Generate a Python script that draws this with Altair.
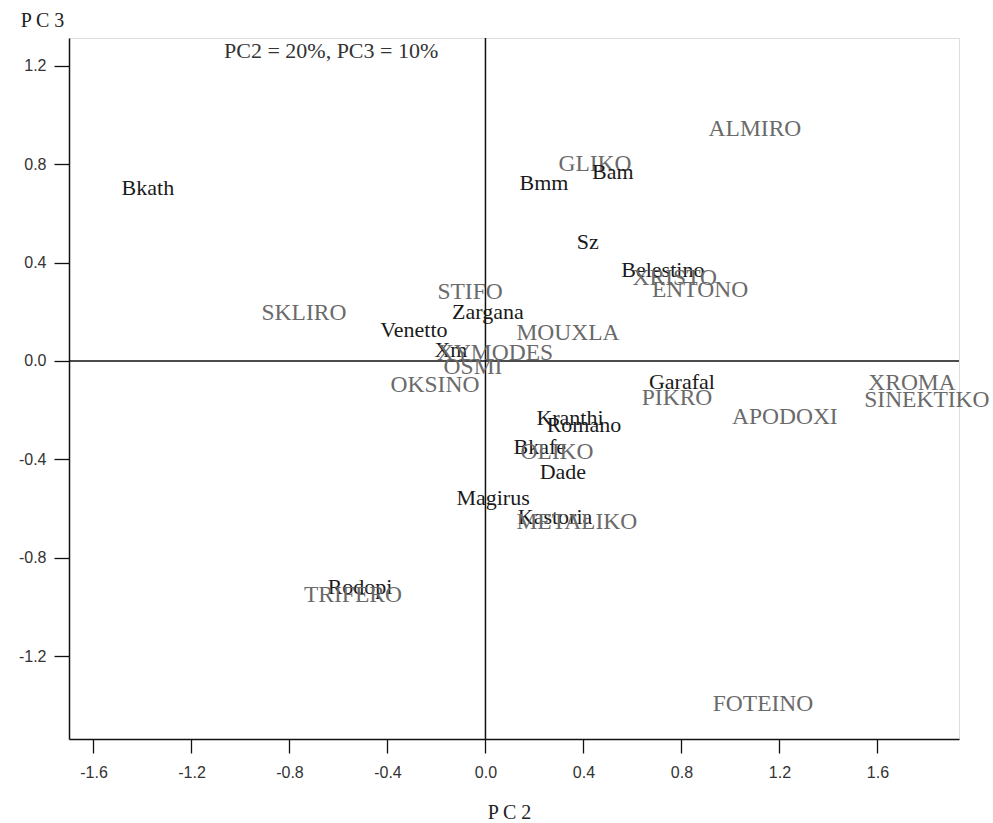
import altair as alt
import pandas as pd

labels = ["Bkath", "ALMIRO", "GLIKO", "Bam", "Bmm", "Sz", "Belestino", "XRISTO",
          "ENTONO", "STIFO", "Zargana", "SKLIRO", "Venetto", "MOUXLA", "Xm", "XYMODES",
          "OSMI", "OKSINO", "Garafal", "PIKRO", "APODOXI", "XROMA", "SINEKTIKO",
          "Kranthi", "Romano", "Bkafe", "OLIKO", "Dade", "Magirus", "Kastoria",
          "METALIKO", "Rodopi", "TRIFERO", "FOTEINO"]
pc2 = [-1.378, 1.10, 0.447, 0.52, 0.239, 0.418, 0.724, 0.773,
       0.876, -0.063, 0.01, -0.741, -0.292, 0.337, -0.141, 0.039,
       -0.051, -0.206, 0.802, 0.782, 1.222, 1.741, 1.802,
       0.345, 0.402, 0.222, 0.292, 0.316, 0.031, 0.284,
       0.373, -0.512, -0.541, 1.133]
pc3 = [0.703, 0.943, 0.80, 0.768, 0.724, 0.484, 0.37, 0.337,
       0.289, 0.28, 0.199, 0.195, 0.126, 0.114, 0.045, 0.033,
       -0.024, -0.098, -0.085, -0.15, -0.228, -0.089, -0.159,
       -0.232, -0.26, -0.35, -0.37, -0.451, -0.557, -0.634,
       -0.654, -0.919, -0.951, -1.394]
kind = ["sample" if not l.isupper() else "attribute" for l in labels]

x_ticks = [-1.6, -1.2, -0.8, -0.4, 0.0, 0.4, 0.8, 1.2, 1.6]
y_ticks = [-1.2, -0.8, -0.4, 0.0, 0.4, 0.8, 1.2]
x_domain = [-1.70, 1.933]
y_domain = [-1.537, 1.313]

note_text = ["PC2 = 20%, PC3 = 10%"]
note_x = [-0.63]
note_y = [1.262]

df = pd.DataFrame({"label": labels, "PC2": pc2, "PC3": pc3, "kind": kind})
note = pd.DataFrame({"t": note_text, "x": note_x, "y": note_y})
zero = pd.DataFrame({"v": [0.0]})

xs = alt.Scale(domain=x_domain, nice=False, zero=False)
ys = alt.Scale(domain=y_domain, nice=False, zero=False)

minus_fix = "replace(datum.label, '\u2212', '-')"

xaxis = alt.Axis(values=x_ticks, format=".1f", labelExpr=minus_fix, grid=False,
                 title="P C 2",
                 titleAngle=0, titleX=440, titleY=73, titleAlign="center",
                 titleBaseline="middle", titleFont="Liberation Serif",
                 titleFontSize=20, titleFontWeight="normal", titleColor="#222",
                 labelFont="Liberation Sans", labelFontSize=16, labelColor="#333",
                 tickSize=14, labelPadding=11, domainColor="#111", tickColor="#111",
                 domainWidth=1.5, tickWidth=1.3)
yaxis = alt.Axis(values=y_ticks, format=".1f", labelExpr=minus_fix, grid=False,
                 title="P C 3",
                 titleAngle=0, titleX=-27, titleY=-18, titleAlign="center",
                 titleBaseline="middle", titleFont="Liberation Serif",
                 titleFontSize=20, titleFontWeight="normal", titleColor="#222",
                 labelFont="Liberation Sans", labelFontSize=16, labelColor="#333",
                 tickSize=15, labelPadding=8, domainColor="#111", tickColor="#111",
                 domainWidth=1.5, tickWidth=1.3)

base = alt.Chart(df)

texts = base.mark_text(font="Liberation Serif", align="center",
                       baseline="middle").encode(
    x=alt.X("PC2:Q", scale=xs, axis=xaxis),
    y=alt.Y("PC3:Q", scale=ys, axis=yaxis),
    text="label:N",
    color=alt.Color("kind:N", scale=alt.Scale(domain=["sample", "attribute"],
                                              range=["#1a1a1a", "#6a6a6a"]),
                    legend=None),
    size=alt.Size("kind:N", scale=alt.Scale(domain=["sample", "attribute"],
                                            range=[22, 23.5]),
                  legend=None),
)

vline = alt.Chart(zero).mark_rule(color="#111", strokeWidth=1.5).encode(
    x=alt.X("v:Q", scale=xs))
hline = alt.Chart(zero).mark_rule(color="#111", strokeWidth=1.5).encode(
    y=alt.Y("v:Q", scale=ys))

note_mark = alt.Chart(note).mark_text(font="Liberation Serif", fontSize=22,
                                      align="center", baseline="middle",
                                      color="#333").encode(
    x=alt.X("x:Q", scale=xs), y=alt.Y("y:Q", scale=ys), text="t:N")

chart = alt.layer(vline, hline, texts, note_mark).properties(
    width=890, height=701,
    autosize=alt.AutoSizeParams(type="none"),
    padding={"left": 69, "top": 38, "right": 34, "bottom": 84},
).configure_view(stroke="#111", strokeWidth=1.5).configure(background="white")

chart.save("out.html", embed_options={"renderer": "svg", "actions": False})
